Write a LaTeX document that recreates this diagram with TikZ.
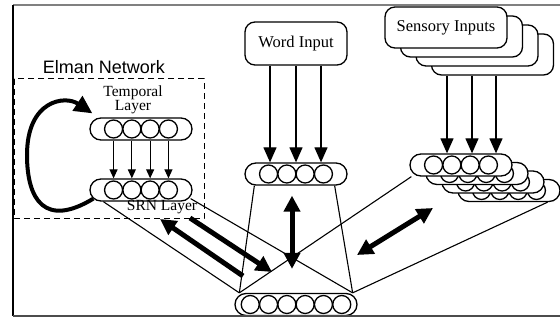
\documentclass[tikz,border=0pt]{standalone}
\usepackage{fontspec}
\setmainfont{Liberation Serif}
\newfontfamily\boxsans{Liberation Sans}
\usetikzlibrary{arrows.meta,calc}

\begin{document}
\begin{tikzpicture}[x=1pt,y=-1pt,
  layer/.style={draw,line width=1.3pt,fill=white,rounded corners=11pt,
    minimum width=102pt,minimum height=22pt,inner sep=0pt},
  unit/.style={draw,line width=1.3pt,circle,minimum size=18pt,inner sep=0pt},
  inbox/.style={draw,line width=1.3pt,fill=white,rounded corners=10pt,
    minimum width=122pt,minimum height=41pt,inner sep=0pt,
    font=\fontsize{16.5}{18}\selectfont},
  lbl/.style={font=\fontsize{15.5}{12}\selectfont,align=center,inner sep=0pt},
  link/.style={line width=1.1pt},
  feed/.style={line width=1.2pt,-{Triangle[width=13pt,length=15pt]}},
  copyback/.style={line width=1.1pt,-{Triangle[width=8pt,length=9pt]}},
  loopback/.style={line width=4pt,-{Triangle[width=17pt,length=18pt]}},
  boldarrow/.style={line width=5pt,-{Triangle[width=16pt,length=16pt]}},
  boldboth/.style={line width=5pt,{Triangle[width=16pt,length=16pt]}-{Triangle[width=16pt,length=16pt]}}]
  \useasboundingbox (0,0) rectangle (560,320);
    % a row of units inside a rounded layer
    \newcommand{\layer}[4]{
      \node[layer,minimum width=#4] (#1) at (#2) {};
      \foreach \k in {1,...,#3}
        \node[unit] at ($(#1.center)+({(\k-(#3+1)/2)*18.3},0)$) {};
    }

  % frame
  \draw[gray,line width=1.5pt] (13,5) -- (560,5);
  \draw[line width=1.5pt] (13,5) -- (13,316);

  % Elman part
  \draw[line width=1pt,dash pattern=on 6pt off 4pt] (14,79) rectangle (204,219);
  \node[font=\boxsans\fontsize{18}{20}\selectfont,inner sep=0pt] (elman) at (104,67) {Elman Network};
  \layer{temporal}{141,129}{4}{102pt}
  \layer{srn}{141,190}{4}{102pt}
  \node[lbl] (templbl) at (133,100) {Temporal\\Layer};
  \node[lbl] (srnlbl) at (162,207) {SRN Layer};
  \foreach \k in {1,...,4}
    \draw[copyback] ([xshift={(\k-2.5)*18.3}]temporal.south) -- ([xshift={(\k-2.5)*18.3}]srn.north);
  \draw[loopback] ([xshift=4pt,yshift=3pt]srn.south west) .. controls (45,228) and (27,200) .. (27,155)
    .. controls (27,100) and (65,95) .. ([xshift=3pt,yshift=4pt]temporal.north west);

  % word input
  \node[inbox,minimum width=102pt,minimum height=43pt] (wordin) at (296,43.5) {Word Input};
  \layer{word}{296,174}{4}{102pt}
  \foreach \dx in {-26,0,25}
    \draw[feed] ([xshift=\dx pt]word.north |- wordin.south) -- ([xshift=\dx pt]word.north);

  % sensory inputs, stacked
  \foreach \s in {3,2,1}
    \node[inbox] (in\s) at (446+15.5*\s,27.5+9*\s) {};
  \node[inbox] (in0) at (446,27.5) {Sensory Inputs};
  \foreach \s in {3,2,1,0}{
    \layer{sl\s}{461+16*\s,165+8.5*\s}{4}{102pt}
  }
  \foreach \dx in {-14,11,35}
    \draw[feed] ([xshift=\dx pt]sl0.north |- in3.south) -- ([xshift=\dx pt]sl0.north);

  % bottom layer
  \layer{out}{296,304.5}{6}{122pt}

  % funnels
  \draw[link] ([xshift=10pt]word.south west) -- ([xshift=5pt]out.north west);
  \draw[link] ([xshift=-13pt]word.south east) -- ([xshift=-5pt]out.north east);
  \draw[link] ([xshift=14pt]srn.south west) -- ([xshift=5pt]out.north west);
  \draw[link] ([xshift=-2pt,yshift=3pt]srn.south east) -- ([xshift=-5pt]out.north east);
  \draw[link] ([xshift=2pt]sl0.south west) -- ([xshift=5pt]out.north west);
  \draw[link] ([xshift=-13pt]sl3.south east) -- ([xshift=-5pt]out.north east);

  % two-way traffic
  \coordinate (srnout) at (190,218);
  \coordinate (outin) at (272,272);
  \coordinate (outsrn) at (243,276);
  \coordinate (srnin) at (160,219);
  \coordinate (outsens) at (357,255);
  \coordinate (sensin) at (433,208);
  \draw[boldarrow] (srnout) -- (outin);
  \draw[boldarrow] (outsrn) -- (srnin);
  \draw[boldboth] (outsens) -- (sensin);
  \draw[boldboth] ([xshift=-4pt,yshift=24pt]out.north) -- ([xshift=-4pt,yshift=-10pt]word.south);

  \draw[gray!60!black,line width=2pt] (13,316) -- (560,316);
\end{tikzpicture}
\end{document}
